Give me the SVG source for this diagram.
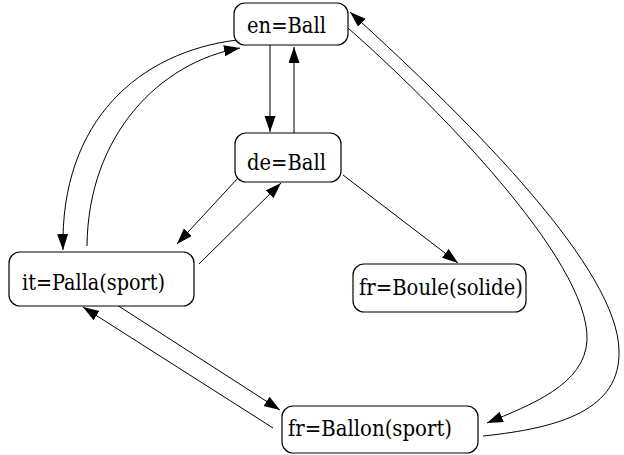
<svg xmlns="http://www.w3.org/2000/svg" width="624" height="455" viewBox="0 0 624 455">
<defs>
<style>
.box{fill:#fff;stroke:#000;stroke-width:1.2}
.lbl{font-family:'DejaVu Serif','Liberation Serif',serif;font-size:23px;fill:#000}
.c{fill:none;stroke:#000;stroke-width:1}
</style>
<marker id="ah" markerUnits="userSpaceOnUse" markerWidth="17" markerHeight="12" refX="16" refY="5.5" orient="auto" viewBox="0 0 17 12">
<path d="M0,0 L16,5.5 L0,11 z" fill="#000"/>
</marker>
</defs>
<g id="connectors">
<path class="c" marker-end="url(#ah)" d="M270,45 L270,132"/>
<path class="c" marker-end="url(#ah)" d="M294,133 L294,47"/>
<path class="c" marker-end="url(#ah)" d="M237,40 C140,52 60,120 63,250"/>
<path class="c" marker-end="url(#ah)" d="M87,246 C88,135 160,62 240,48"/>
<path class="c" marker-end="url(#ah)" d="M238,178 L177,244"/>
<path class="c" marker-end="url(#ah)" d="M199,264 L281,183"/>
<path class="c" marker-end="url(#ah)" d="M343,175 L458,263"/>
<path class="c" marker-end="url(#ah)" d="M348,28 C430,100 590,260 587,340 C585,385 530,405 487,423"/>
<path class="c" marker-end="url(#ah)" d="M483,436 C560,428 621,410 619,350 C617,270 480,130 350,12"/>
<path class="c" marker-end="url(#ah)" d="M117,305 L280,410"/>
<path class="c" marker-end="url(#ah)" d="M273,428 L83,307"/>
</g>
<g id="en">
<rect class="box" x="234" y="3" width="114" height="42" rx="11"/>
<text class="lbl" x="247" y="33" textLength="79" lengthAdjust="spacingAndGlyphs">en=Ball</text>
</g>
<g id="de">
<rect class="box" x="235" y="133" width="106" height="49" rx="11"/>
<text class="lbl" x="247" y="170" textLength="79" lengthAdjust="spacingAndGlyphs">de=Ball</text>
</g>
<g id="it">
<rect class="box" x="9" y="252" width="185" height="54" rx="11"/>
<text class="lbl" x="22" y="290" textLength="143" lengthAdjust="spacingAndGlyphs">it=Palla(sport)</text>
</g>
<g id="boule">
<rect class="box" x="353" y="264" width="173" height="48" rx="11"/>
<text class="lbl" x="359" y="295" textLength="164" lengthAdjust="spacingAndGlyphs">fr=Boule(solide)</text>
</g>
<g id="ballon">
<rect class="box" x="282" y="406" width="196" height="47" rx="11"/>
<text class="lbl" x="288" y="436" textLength="164" lengthAdjust="spacingAndGlyphs">fr=Ballon(sport)</text>
</g>
</svg>
